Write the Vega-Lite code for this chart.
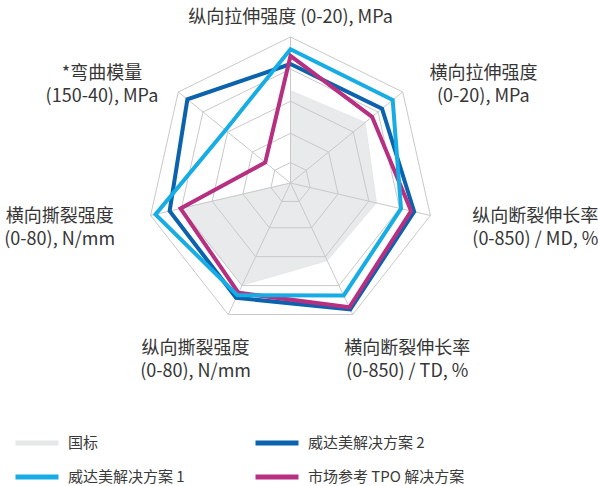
{
  "$schema": "https://vega.github.io/schema/vega-lite/v6.json",
  "width": 598,
  "height": 486,
  "padding": 0,
  "autosize": {"type": "none"},
  "background": "white",
  "config": {"view": {"stroke": null}, "font": "Noto Sans CJK SC"},
  "datasets": {
    "scores": [
      {"series": "威达美解决方案 2", "axis": 0, "score": 0.815},
      {"series": "威达美解决方案 2", "axis": 1, "score": 0.816},
      {"series": "威达美解决方案 2", "axis": 2, "score": 0.884},
      {"series": "威达美解决方案 2", "axis": 3, "score": 0.96},
      {"series": "威达美解决方案 2", "axis": 4, "score": 0.873},
      {"series": "威达美解决方案 2", "axis": 5, "score": 0.864},
      {"series": "威达美解决方案 2", "axis": 6, "score": 0.919},
      {"series": "市场参考 TPO 解决方案", "axis": 0, "score": 0.87},
      {"series": "市场参考 TPO 解决方案", "axis": 1, "score": 0.727},
      {"series": "市场参考 TPO 解决方案", "axis": 2, "score": 0.862},
      {"series": "市场参考 TPO 解决方案", "axis": 3, "score": 0.945},
      {"series": "市场参考 TPO 解决方案", "axis": 4, "score": 0.835},
      {"series": "市场参考 TPO 解决方案", "axis": 5, "score": 0.786},
      {"series": "市场参考 TPO 解决方案", "axis": 6, "score": 0.225},
      {"series": "威达美解决方案 1", "axis": 0, "score": 0.916},
      {"series": "威达美解决方案 1", "axis": 1, "score": 0.911},
      {"series": "威达美解决方案 1", "axis": 2, "score": 0.79},
      {"series": "威达美解决方案 1", "axis": 3, "score": 0.855},
      {"series": "威达美解决方案 1", "axis": 4, "score": 0.853},
      {"series": "威达美解决方案 1", "axis": 5, "score": 0.965},
      {"series": "威达美解决方案 1", "axis": 6, "score": 0.58},
      {"series": "国标", "axis": 0, "score": 0.632},
      {"series": "国标", "axis": 1, "score": 0.665},
      {"series": "国标", "axis": 2, "score": 0.614},
      {"series": "国标", "axis": 3, "score": 0.59},
      {"series": "国标", "axis": 4, "score": 0.777},
      {"series": "国标", "axis": 5, "score": 0.786},
      {"series": "国标", "axis": 6, "score": 0}
    ],
    "axes": [
      {"axis": 0, "label": ["纵向拉伸强度 (0-20), MPa"]},
      {"axis": 1, "label": ["横向拉伸强度", "(0-20), MPa"]},
      {"axis": 2, "label": ["纵向断裂伸长率", "(0-850) / MD, %"]},
      {"axis": 3, "label": ["横向断裂伸长率", "(0-850) / TD, %"]},
      {"axis": 4, "label": ["纵向撕裂强度", "(0-80), N/mm"]},
      {"axis": 5, "label": ["横向撕裂强度", "(0-80), N/mm"]},
      {"axis": 6, "label": ["*弯曲模量", "(150-40), MPa"]}
    ],
    "rings": [
      {"level": 0.14, "axis": [0, 1, 2, 3, 4, 5, 6]},
      {"level": 0.34, "axis": [0, 1, 2, 3, 4, 5, 6]},
      {"level": 0.56, "axis": [0, 1, 2, 3, 4, 5, 6]},
      {"level": 0.78, "axis": [0, 1, 2, 3, 4, 5, 6]},
      {"level": 1.0, "axis": [0, 1, 2, 3, 4, 5, 6]}
    ]
  },
  "layer": [
    {
      "data": {"name": "scores"},
      "transform": [
        {"filter": "datum.series === '国标'"},
        {"calculate": "datum.axis * 2 * PI / 7", "as": "theta"},
        {"calculate": "datum.score * sin(datum.theta)", "as": "x"},
        {"calculate": "datum.score * cos(datum.theta)", "as": "y"}
      ],
      "mark": {"type": "line", "interpolate": "linear-closed", "fill": "#e9eaeb", "strokeWidth": 1},
      "encoding": {
        "x": {"field": "x", "type": "quantitative", "scale": {"domain": [-2.0244, 2.1429], "nice": false, "zero": false}, "axis": null},
        "y": {"field": "y", "type": "quantitative", "scale": {"domain": [-2.0753, 1.2534], "nice": false, "zero": false}, "axis": null},
        "order": {"field": "axis", "type": "quantitative"},
        "color": {
          "field": "series", "type": "nominal",
          "scale": {"domain": ["国标", "威达美解决方案 1", "威达美解决方案 2", "市场参考 TPO 解决方案"], "range": ["#e6e7e8", "#17ade4", "#0b63ad", "#b62f80"]},
          "legend": {"title": null, "orient": "none", "legendX": 13, "legendY": 419, "columns": 2, "columnPadding": 60, "rowPadding": -8.5, "symbolType": "stroke", "symbolSize": 1849, "symbolStrokeWidth": 5, "labelFontSize": 15, "labelFont": "Noto Sans CJK SC", "labelColor": "#3a3a3a", "labelOffset": 7, "padding": 0, "labelLimit": 300}
        }
      }
    },
    {
      "data": {"name": "rings"},
      "transform": [
        {"flatten": ["axis"]},
        {"calculate": "datum.axis * 2 * PI / 7", "as": "theta"},
        {"calculate": "datum.level * sin(datum.theta)", "as": "x"},
        {"calculate": "datum.level * cos(datum.theta)", "as": "y"}
      ],
      "mark": {"type": "line", "interpolate": "linear-closed", "stroke": "#c9c9c9", "strokeWidth": 1},
      "encoding": {
        "x": {"field": "x", "type": "quantitative"},
        "y": {"field": "y", "type": "quantitative"},
        "detail": {"field": "level", "type": "nominal"},
        "order": {"field": "axis", "type": "quantitative"}
      }
    },
    {
      "data": {"name": "axes"},
      "transform": [
        {"calculate": "[0, 1]", "as": "r"},
        {"flatten": ["r"]},
        {"calculate": "datum.axis * 2 * PI / 7", "as": "theta"},
        {"calculate": "datum.r * sin(datum.theta)", "as": "x"},
        {"calculate": "datum.r * cos(datum.theta)", "as": "y"}
      ],
      "mark": {"type": "line", "stroke": "#c9c9c9", "strokeWidth": 1},
      "encoding": {
        "x": {"field": "x", "type": "quantitative"},
        "y": {"field": "y", "type": "quantitative"},
        "detail": {"field": "axis", "type": "nominal"},
        "order": {"field": "r", "type": "quantitative"}
      }
    },
    {
      "data": {"name": "scores"},
      "transform": [
        {"filter": "datum.series !== '国标'"},
        {"calculate": "datum.axis * 2 * PI / 7", "as": "theta"},
        {"calculate": "datum.score * sin(datum.theta)", "as": "x"},
        {"calculate": "datum.score * cos(datum.theta)", "as": "y"}
      ],
      "mark": {"type": "line", "interpolate": "linear-closed", "strokeWidth": 4, "strokeJoin": "miter"},
      "encoding": {
        "x": {"field": "x", "type": "quantitative"},
        "y": {"field": "y", "type": "quantitative"},
        "order": {"field": "axis", "type": "quantitative"},
        "color": {"field": "series", "type": "nominal"}
      }
    },
    {
      "data": {"name": "axes"},
      "transform": [
        {"calculate": "datum.axis * 2 * PI / 7", "as": "theta"},
        {"calculate": "1.70 * sin(datum.theta) + 0.04 * (1 - cos(datum.theta))", "as": "lx"},
        {"calculate": "1.2057 * cos(datum.theta) + 0.041 - 0.1167 * cos(datum.theta) * cos(datum.theta)", "as": "ly"}
      ],
      "mark": {"type": "text", "align": "center", "baseline": "middle", "fontSize": 18, "lineHeight": 23, "color": "#363636", "font": "Noto Sans CJK SC"},
      "encoding": {
        "x": {"field": "lx", "type": "quantitative"},
        "y": {"field": "ly", "type": "quantitative"},
        "text": {"field": "label", "type": "nominal"}
      }
    }
  ]
}
